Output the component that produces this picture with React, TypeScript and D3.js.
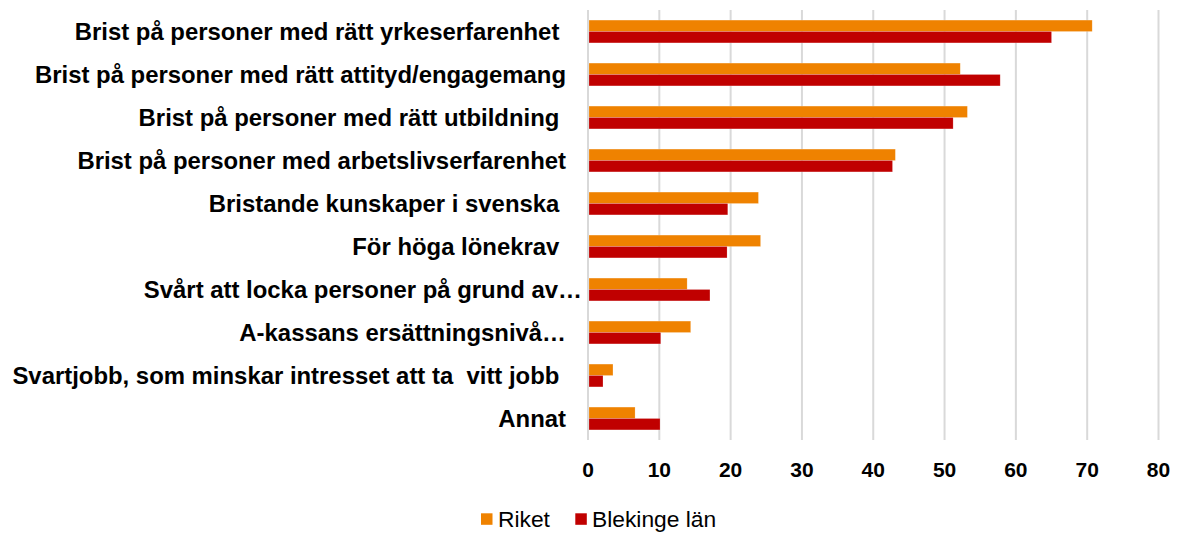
import React from 'react';
import * as d3 from 'd3';

const categories = [
  'Brist på personer med rätt yrkeserfarenhet ',
  'Brist på personer med rätt attityd/engagemang',
  'Brist på personer med rätt utbildning ',
  'Brist på personer med arbetslivserfarenhet',
  'Bristande kunskaper i svenska ',
  'För höga lönekrav ',
  'Svårt att locka personer på grund av…',
  'A-kassans ersättningsnivå…',
  'Svartjobb, som minskar intresset att ta  vitt jobb ',
  'Annat',
];

const series = ['Riket', 'Blekinge län'];
const riket = [70.7, 52.2, 53.2, 43.1, 23.9, 24.2, 13.9, 14.4, 3.5, 6.6];
const blekinge = [65.0, 57.8, 51.2, 42.7, 19.6, 19.5, 17.1, 10.2, 2.1, 10.1];
const xTicks = [0, 10, 20, 30, 40, 50, 60, 70, 80];

const colors = ['#EF8200', '#C00000'];
const font = '"Liberation Sans", Arial, sans-serif';

export default function App() {
  const width = 1178,
        height = 533;
  const plot = { left: 588, right: 1158.5, top: 10, bottom: 440 };

  // value axis
  const x = d3.scaleLinear()
              .domain([0, 80])
              .range([plot.left, plot.right]);

  // category axis, each band holds the two series
  const y = d3.scaleBand()
              .domain(categories)
              .range([plot.top, plot.bottom])
              .paddingInner(0.47)
              .paddingOuter(0.235);

  const ySub = d3.scaleBand()
                 .domain(series)
                 .range([0, y.bandwidth()]);

  const values = [riket, blekinge];

  // the truncated label in the original spills over towards the axis
  const labelX = (c: string) => (c.startsWith('Svårt') ? 582 : 566);

  return (
    <svg width={width} height={height}
         style={{ position: 'absolute', left: 0, top: 0, background: '#fff' }}>
      {/* grid */}
      {xTicks.map((t) => (
        <line key={'g' + t}
              x1={x(t)} x2={x(t)}
              y1={plot.top} y2={plot.bottom}
              stroke="#D9D9D9" strokeWidth={2} />
      ))}

      {/* bars */}
      {series.map((s, si) => (
        <g key={s}>
          {categories.map((c, i) => (
            <rect key={c}
                  x={x(0) + 1}
                  y={(y(c) as number) + (ySub(s) as number)}
                  width={x(values[si][i]) - x(0) - 1}
                  height={ySub.bandwidth()}
                  fill={colors[si]}
                  stroke="#fff" strokeOpacity={0.3} strokeWidth={0.6} />
          ))}
        </g>
      ))}

      {/* category labels */}
      {categories.map((c) => (
        <text key={'l' + c}
              x={labelX(c)}
              y={(y(c) as number) + y.bandwidth() / 2 + 8.6}
              textAnchor="end"
              fontFamily={font} fontWeight="bold" fontSize={23.9}
              fill="#000" style={{ whiteSpace: 'pre' }}>
          {c}
        </text>
      ))}

      {/* tick labels */}
      {xTicks.map((t) => (
        <text key={'t' + t}
              x={x(t)} y={plot.bottom + 36.7}
              textAnchor="middle"
              fontFamily={font} fontWeight="bold" fontSize={21}
              fill="#000">
          {t}
        </text>
      ))}

      {/* legend */}
      <g transform="translate(481, 513.3)">
        <rect x={0} y={0} width={11.5} height={11.5} fill={colors[0]} />
        <text x={17} y={14} fontFamily={font} fontSize={22.8} fill="#000">{series[0]}</text>
        <rect x={94.3} y={0} width={11.5} height={11.5} fill={colors[1]} />
        <text x={111} y={14} fontFamily={font} fontSize={22.8} fill="#000">{series[1]}</text>
      </g>
    </svg>
  );
}
